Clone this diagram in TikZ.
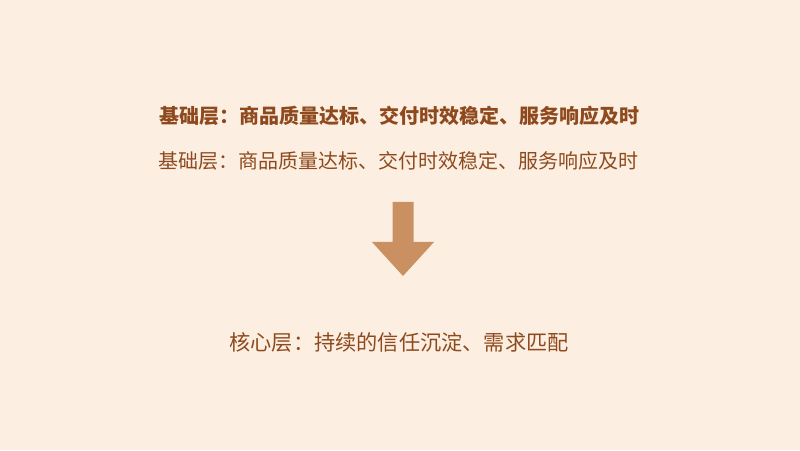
\documentclass[tikz,border=0pt]{standalone}
\usepackage{fontspec}
\usepackage{xcolor}
\newfontfamily\cjk{Noto Sans CJK SC}
\definecolor{paper}{HTML}{FCEFE1}
\definecolor{ink}{HTML}{8E4A1E}
\definecolor{arrowfill}{HTML}{CB9062}

\begin{document}
\begin{tikzpicture}[x=1pt, y=1pt,
  layer/.style={text=ink, inner sep=0pt, font=\cjk\fontsize{20}{24}\selectfont},
  layerbold/.style={layer, font=\cjk\bfseries\fontsize{20}{24}\selectfont}]
\fill [paper] (0, 0) rectangle (800, 450);
\useasboundingbox (0, 0) rectangle (800, 450);
\node at (399, 334) [layerbold] (base1) {基础层：商品质量达标、交付时效稳定、服务响应及时};
\node at (398, 289) [layer] (base2) {基础层：商品质量达标、交付时效稳定、服务响应及时};
\node at (399, 108) [layer, font=\cjk\fontsize{21.2}{25}\selectfont] (core) {核心层：持续的信任沉淀、需求匹配};
\fill [arrowfill] (392.5, 248) -- (413.5, 248) -- (413.5, 208) -- (434, 208)
  -- (403, 174) -- (372, 208) -- (392.5, 208) -- cycle;
\end{tikzpicture}
\end{document}
